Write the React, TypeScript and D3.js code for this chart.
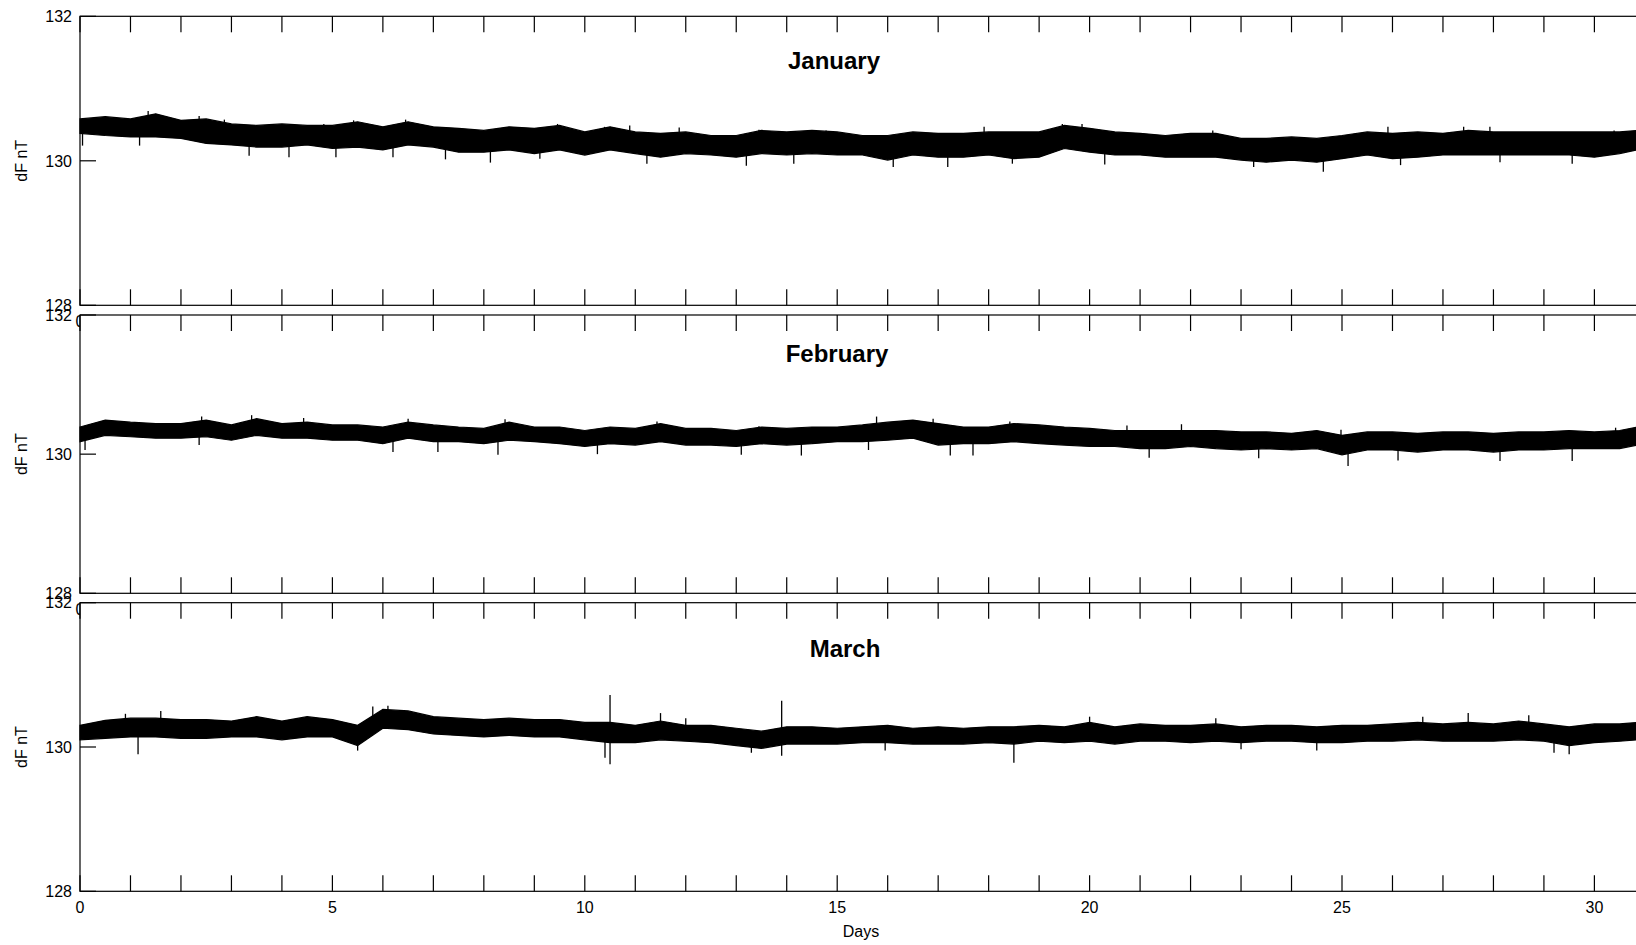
import React from "react";
import * as d3 from "d3";

// ---- data ----
const months = ["January", "February", "March"];
const yTicks = [128, 130, 132];
const xTickLabels = [0, 5, 10, 15, 20, 25, 30];
const sampleDays = [...d3.range(0, 31, 0.5), 30.85];

const janHi = [130.58,130.61,130.58,130.65,130.56,130.58,130.51,130.49,130.51,130.49,130.49,130.54,130.47,130.54,130.47,130.45,130.42,130.47,130.45,130.49,130.40,130.47,130.40,130.38,130.40,130.35,130.35,130.42,130.40,130.42,130.40,
  130.35,130.35,130.40,130.38,130.38,130.40,130.40,130.40,130.49,130.45,130.40,130.38,130.35,130.38,130.38,130.31,130.31,130.33,130.31,130.35,130.40,130.38,130.40,130.38,130.42,130.40,130.40,130.40,130.40,130.40,130.40,130.42];
const janLo = [130.38,130.35,130.33,130.33,130.31,130.24,130.22,130.19,130.19,130.22,130.17,130.19,130.15,130.22,130.19,130.12,130.12,130.15,130.10,130.15,130.08,130.15,130.10,130.05,130.10,130.08,130.05,130.10,130.08,130.10,130.08,
  130.08,130.01,130.08,130.05,130.05,130.08,130.03,130.05,130.17,130.12,130.08,130.08,130.05,130.05,130.05,130.01,129.98,130.01,129.98,130.03,130.08,130.03,130.05,130.08,130.08,130.08,130.08,130.08,130.08,130.05,130.10,130.15];
const febHi = [130.39,130.49,130.46,130.44,130.44,130.49,130.42,130.51,130.44,130.46,130.42,130.42,130.39,130.46,130.42,130.39,130.37,130.46,130.39,130.39,130.34,130.39,130.37,130.44,130.37,130.37,130.34,130.39,130.37,130.39,130.39,
  130.42,130.46,130.49,130.44,130.39,130.39,130.44,130.42,130.39,130.37,130.34,130.34,130.34,130.34,130.34,130.32,130.32,130.30,130.34,130.27,130.32,130.32,130.30,130.32,130.32,130.30,130.32,130.32,130.34,130.32,130.34,130.39];
const febLo = [130.18,130.27,130.25,130.23,130.23,130.25,130.20,130.27,130.23,130.23,130.20,130.20,130.15,130.23,130.18,130.18,130.15,130.20,130.18,130.15,130.11,130.15,130.13,130.18,130.13,130.13,130.11,130.15,130.13,130.15,130.18,
  130.18,130.20,130.23,130.13,130.15,130.15,130.18,130.15,130.13,130.11,130.11,130.08,130.08,130.11,130.08,130.06,130.08,130.06,130.08,129.99,130.06,130.06,130.03,130.06,130.06,130.03,130.06,130.06,130.08,130.08,130.08,130.13];
const marHi = [130.30,130.37,130.40,130.40,130.38,130.38,130.36,130.42,130.36,130.42,130.38,130.30,130.52,130.50,130.42,130.40,130.38,130.40,130.38,130.38,130.34,130.34,130.30,130.36,130.30,130.30,130.26,130.22,130.28,130.28,130.26,
  130.28,130.30,130.26,130.28,130.26,130.28,130.28,130.30,130.28,130.34,130.28,130.32,130.30,130.30,130.32,130.28,130.30,130.30,130.28,130.30,130.30,130.32,130.34,130.32,130.34,130.32,130.36,130.32,130.28,130.32,130.32,130.34];
const marLo = [130.10,130.12,130.14,130.14,130.12,130.12,130.14,130.14,130.10,130.14,130.14,130.02,130.26,130.24,130.18,130.16,130.14,130.16,130.14,130.14,130.10,130.06,130.06,130.10,130.08,130.06,130.02,129.98,130.04,130.04,130.04,
  130.06,130.06,130.04,130.04,130.04,130.06,130.04,130.08,130.06,130.08,130.04,130.08,130.08,130.06,130.08,130.06,130.08,130.08,130.06,130.06,130.08,130.08,130.10,130.08,130.08,130.08,130.10,130.08,130.02,130.06,130.08,130.10];

// spikes: [day, value]
const janSpikes: [number, number][] = [[1.35,130.69],[2.36,130.62],[2.86,130.57],[4.83,130.51],[5.42,130.56],[6.45,130.57],[9.46,130.51],[10.39,130.47],[10.89,130.49],[11.87,130.46],[13.45,130.43],[14.78,130.42],
  [0.05,130.21],[1.18,130.21],[3.35,130.07],[4.14,130.05],[5.07,130.05],[6.2,130.05],[7.24,130.02],[8.13,129.975],[9.11,130.03],[11.23,129.96],[13.2,129.93],[14.14,129.96],
  [17.91,130.47],[19.46,130.51],[19.85,130.51],[22.44,130.42],[25.91,130.47],[27.41,130.47],[27.93,130.47],[30.39,130.42],
  [16.11,129.915],[17.19,129.915],[18.47,129.96],[20.3,129.95],[23.25,129.915],[24.63,129.85],[26.16,129.94],[28.13,129.98],[29.56,129.96]];
const febSpikes: [number, number][] = [[2.41,130.54],[3.4,130.56],[4.43,130.52],[6.5,130.51],[8.42,130.5],[11.43,130.47],[13.45,130.4],
  [0.1,130.06],[2.36,130.13],[6.2,130.03],[7.09,130.03],[8.28,129.99],[10.25,130.0],[13.1,129.99],[14.29,129.98],
  [15.78,130.54],[16.9,130.51],[18.42,130.47],[20.74,130.41],[21.82,130.43],[24.98,130.35],[28.47,130.31],[30.42,130.38],
  [15.62,130.06],[17.24,129.98],[17.69,129.98],[21.18,129.95],[23.35,129.94],[25.12,129.83],[26.11,129.91],[28.13,129.9],[29.56,129.9]];
const marSpikes: [number, number][] = [[10.5,130.72],[13.9,130.64],[0.9,130.46],[1.6,130.5],[5.8,130.56],[6.1,130.57],[11.5,130.47],[12.0,130.4],[20.0,130.42],[22.5,130.4],[26.6,130.42],[27.5,130.47],[28.7,130.44],
  [10.5,129.76],[10.4,129.85],[13.9,129.88],[18.5,129.78],[1.15,129.9],[5.5,129.95],[13.3,129.92],[15.95,129.95],[23.0,129.97],[24.5,129.95],[29.2,129.92],[29.5,129.9]];

const series = [
  { hi: janHi, lo: janLo, spikes: janSpikes },
  { hi: febHi, lo: febLo, spikes: febSpikes },
  { hi: marHi, lo: marLo, spikes: marSpikes },
];

// ---- layout ----
const W = 1636, H = 945;
const X0 = 80;
const PX_PER_DAY = 50.48;
const panels = [
  { top: 16.3, bottom: 305.3, titleX: 834, titleY: 69 },
  { top: 315, bottom: 593.3, titleX: 837, titleY: 362 },
  { top: 602.7, bottom: 891.3, titleX: 845, titleY: 657 },
];
const FONT = "'Liberation Sans', Arial, Helvetica, sans-serif";

const x = d3.scaleLinear().domain([0, 31]).range([X0, X0 + 31 * PX_PER_DAY]);
const dayTicks = d3.range(0, 32, 1);

function Panel({ idx }: { idx: number }) {
  const p = panels[idx];
  const s = series[idx];
  const y = d3.scaleLinear().domain([128, 132]).range([p.bottom, p.top]);
  const pts = sampleDays.map((d, i) => ({ d, hi: s.hi[i], lo: s.lo[i] }));
  const area = d3
    .area<{ d: number; hi: number; lo: number }>()
    .x((v) => x(v.d))
    .y0((v) => y(v.lo))
    .y1((v) => y(v.hi))
    .curve(d3.curveLinear)(pts) as string;
  const mid = (day: number) => {
    const i = d3.minIndex(sampleDays, (d) => Math.abs(d - day));
    return (s.hi[i] + s.lo[i]) / 2;
  };
  const right = x(31);
  const tickLen = 16;
  return (
    <g>
      <rect x={X0} y={p.top} width={right - X0} height={p.bottom - p.top} fill="#fff" />
      <path d={area} fill="#000" stroke="#000" strokeWidth={1.2} strokeLinejoin="miter" />
      {s.spikes.map(([d, v], i) => (
        <line key={i} x1={x(d)} x2={x(d)} y1={y(v)} y2={y(mid(d))} stroke="#000" strokeWidth={1.3} />
      ))}
      {/* box */}
      <rect x={X0} y={p.top} width={right - X0} height={p.bottom - p.top} fill="none" stroke="#000" strokeWidth={1.2} />
      {/* x ticks */}
      {dayTicks.map((t) => (
        <g key={t}>
          <line x1={x(t)} x2={x(t)} y1={p.top} y2={p.top + tickLen} stroke="#000" strokeWidth={1.2} />
          <line x1={x(t)} x2={x(t)} y1={p.bottom} y2={p.bottom - tickLen} stroke="#000" strokeWidth={1.2} />
        </g>
      ))}
      {xTickLabels.map((t) => (
        <text key={t} x={x(t)} y={p.bottom + 22} textAnchor="middle" fontFamily={FONT} fontSize={16} fill="#000">
          {t}
        </text>
      ))}
      {/* y ticks */}
      {yTicks.map((t) => (
        <g key={t}>
          <line x1={X0} x2={X0 + tickLen} y1={y(t)} y2={y(t)} stroke="#000" strokeWidth={1.2} />
          <text x={72} y={y(t)} dy="0.36em" textAnchor="end" fontFamily={FONT} fontSize={16} fill="#000">
            {t}
          </text>
        </g>
      ))}
      <text
        transform={`translate(27, ${y(130)}) rotate(-90)`}
        textAnchor="middle"
        fontFamily={FONT}
        fontSize={16}
        fill="#000"
      >
        dF nT
      </text>
      <text x={p.titleX} y={p.titleY} textAnchor="middle" fontFamily={FONT} fontSize={24} fontWeight="bold" fill="#000">
        {months[idx]}
      </text>
    </g>
  );
}

export default function App() {
  return (
    <svg
      width={W}
      height={H}
      viewBox={`0 0 ${W} ${H}`}
      style={{ position: "absolute", left: 0, top: 0, background: "#fff" }}
    >
      <rect x={0} y={0} width={W} height={H} fill="#fff" />
      {panels.map((_, i) => (
        <Panel key={i} idx={i} />
      ))}
      <text x={861} y={937} textAnchor="middle" fontFamily={FONT} fontSize={16} fill="#000">
        Days
      </text>
    </svg>
  );
}
